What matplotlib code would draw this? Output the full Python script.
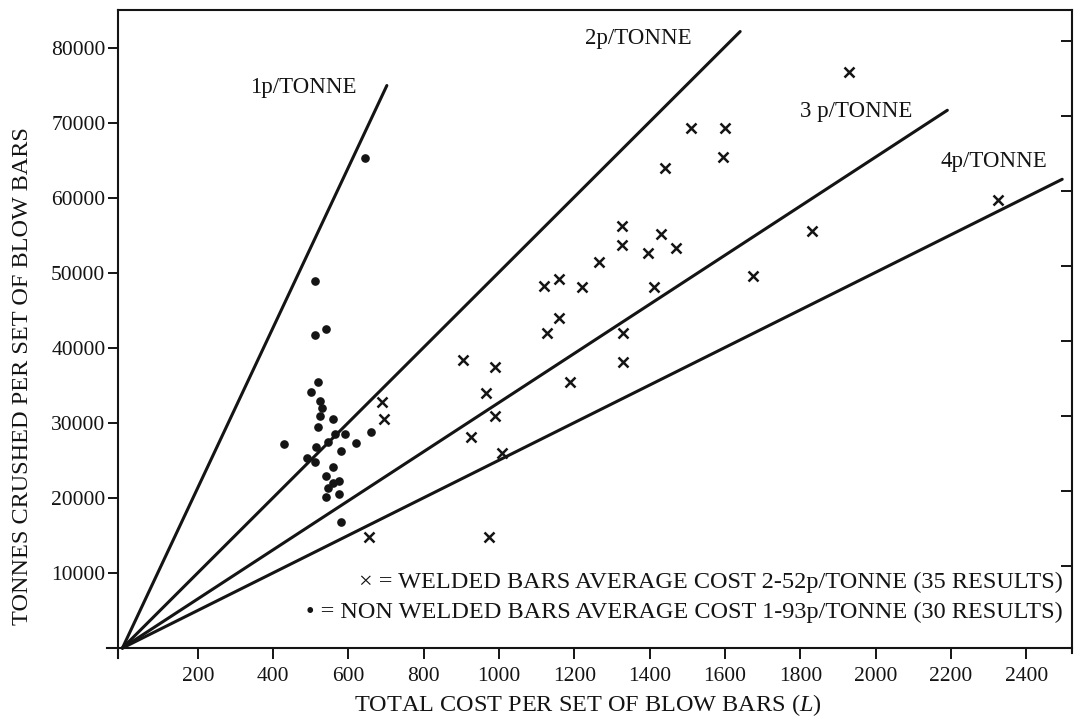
import matplotlib
matplotlib.use("Agg")
import matplotlib.pyplot as plt

plt.rcParams['font.family'] = ['Liberation Serif', 'DejaVu Serif']
plt.rcParams['mathtext.fontset'] = 'custom'
plt.rcParams['mathtext.rm'] = 'Liberation Serif'
plt.rcParams['mathtext.it'] = 'Liberation Serif:italic'

# ---------------- data ----------------
# non welded bars (dots): cost (L), tonnes crushed
dots_x = [644, 510, 510, 540, 520, 500, 525, 530, 525, 560, 520, 590, 565, 660,
          620, 430, 545, 515, 580, 490, 510, 560, 540, 575, 560, 545, 575, 540, 580]
dots_y = [65400, 49000, 41800, 42500, 35500, 34200, 33000, 32000, 31000, 30500,
          29500, 28500, 28500, 28800, 27300, 27200, 27500, 26800, 26300, 25300,
          24800, 24200, 23000, 22300, 22000, 21300, 20500, 20200, 16800]

# welded bars (crosses)
cross_x = [689, 695, 655, 974, 903, 990, 966, 990, 925, 1007, 1120, 1160, 1127,
           1160, 1189, 1220, 1265, 1325, 1325, 1330, 1330, 1395, 1430, 1440,
           1410, 1470, 1510, 1600, 1595, 1675, 1830, 1930, 2325]
cross_y = [32840, 30490, 14800, 14840, 38400, 37430, 33960, 30930, 28170, 26040,
           48300, 49200, 42000, 44000, 35500, 48200, 51500, 56300, 53800, 42000,
           38100, 52700, 55200, 64000, 48200, 53300, 69300, 69300, 65500, 49600,
           55600, 76800, 59800]

# p/tonne reference lines (drawn from origin to these end points)
line_labels = ['1p/TONNE', '2p/TONNE', '3 p/TONNE', '4p/TONNE']
line_end_x = [702, 1640, 2190, 2495]
line_end_y = [75000, 82200, 71700, 62500]
line_label_x = [339, 1228, 1800, 2172]
line_label_y = [74700, 81300, 71600, 64900]

x_ticks = [200, 400, 600, 800, 1000, 1200, 1400, 1600, 1800, 2000, 2200, 2400]
y_ticks = [10000, 20000, 30000, 40000, 50000, 60000, 70000, 80000]
right_ticks = [11000, 21000, 31000, 41000, 51000, 61000, 71000, 81000]

legend_lines = ['\u00d7 = WELDED BARS AVERAGE COST 2-52p/TONNE (35 RESULTS)',
                '\u2022 = NON WELDED BARS AVERAGE COST 1-93p/TONNE (30 RESULTS)']
legend_y = [8700, 4700]

x_label = r'TOTAL COST PER SET OF BLOW BARS ($\mathit{L}$)'
y_label = 'TONNES CRUSHED PER SET OF BLOW BARS'

# ---------------- figure ----------------
W, H = 1080, 716
fig = plt.figure(figsize=(W / 100, H / 100), dpi=100)
ax = fig.add_axes([107 / W, 58 / H, (1072 - 107) / W, (706 - 58) / H])
XMIN, XMAX = -41, 2521
YMIN, YMAX = -1330, 85070
ax.set_xlim(XMIN, XMAX)
ax.set_ylim(YMIN, YMAX)

ink = '#141414'

for ex, ey in zip(line_end_x, line_end_y):
    ax.plot([0, ex], [0, ey], color=ink, lw=2.2, solid_capstyle='round', zorder=2)
for lab, lx, ly in zip(line_labels, line_label_x, line_label_y):
    ax.text(lx, ly, lab, fontsize=16.5, color=ink, ha='left', va='center')

ax.plot(dots_x, dots_y, linestyle='none', marker='o', markersize=5.2,
        color=ink, zorder=3)
ax.plot(cross_x, cross_y, linestyle='none', marker='x', markersize=7,
        markeredgewidth=1.8, color=ink, zorder=3)

# spines
for s in ax.spines.values():
    s.set_linewidth(1.5)
    s.set_color(ink)
ax.spines['left'].set_position(('data', -12))
ax.spines['bottom'].set_position(('data', 0))
ax.spines['top'].set_bounds(-12, XMAX)
ax.spines['right'].set_bounds(-600, YMAX)

ax.set_xticks(x_ticks)
ax.set_xticklabels([str(v) for v in x_ticks])
ax.set_yticks(y_ticks)
ax.set_yticklabels([str(v) for v in y_ticks])
ax.tick_params(axis='x', direction='out', length=8, width=1.4, colors=ink,
               labelsize=15.5, pad=6)
ax.tick_params(axis='y', direction='out', length=7, width=1.4, colors=ink,
               labelsize=15.5, pad=2)

ax2 = ax.twinx()
ax2.set_ylim(YMIN, YMAX)
ax2.set_yticks(right_ticks)
ax2.tick_params(axis='y', direction='in', length=8, width=1.4, colors=ink,
                labelright=False)
for s in ax2.spines.values():
    s.set_visible(False)

# legend text
for txt, ly in zip(legend_lines, legend_y):
    ax.text(2496, ly, txt, fontsize=17.5, color=ink, ha='right', va='center')

fig.text(588 / W, 1 - 705 / H, x_label, fontsize=17.5, color=ink,
         ha='center', va='center')
fig.text(23 / W, 1 - 376 / H, y_label, fontsize=17.5, color=ink,
         ha='center', va='center', rotation=90)

fig.savefig('out.png', dpi=100)
